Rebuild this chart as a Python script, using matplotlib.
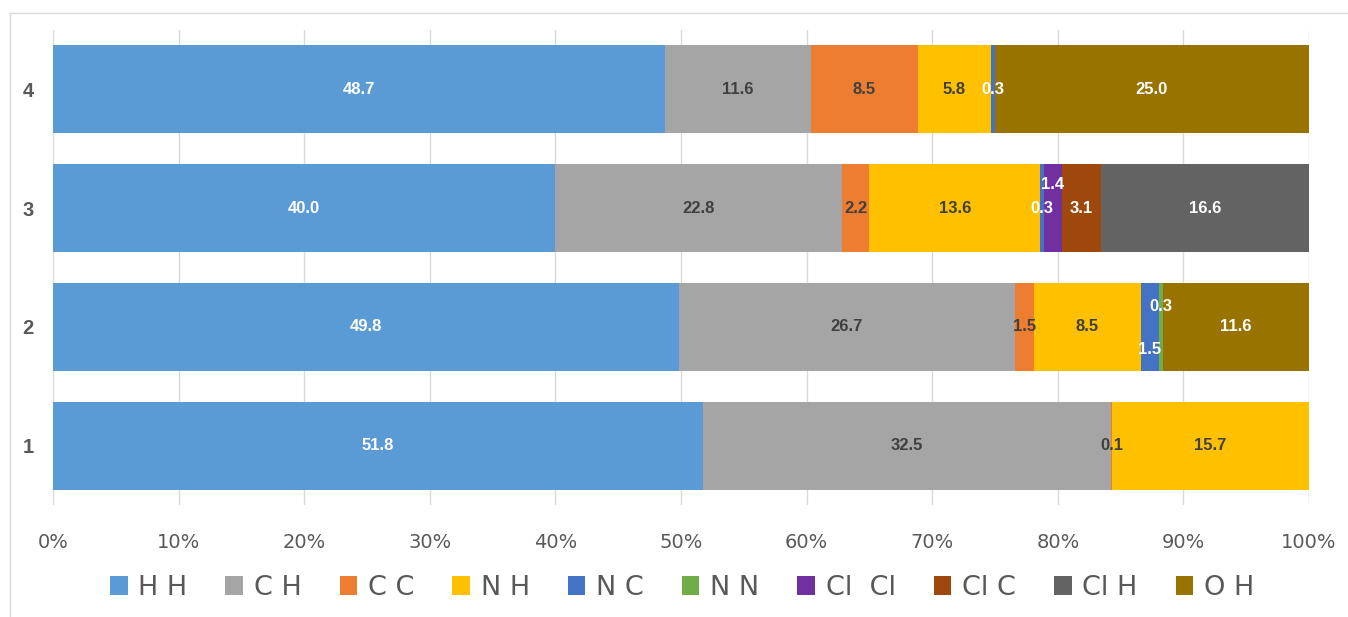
import numpy as np
import matplotlib
matplotlib.use("Agg")
import matplotlib.pyplot as plt
from matplotlib.lines import Line2D

# rows from bottom (1) to top (4), values in percent
rows = ["1", "2", "3", "4"]
series = ["H H", "C H", "C C", "N H", "N C", "N N", "Cl  Cl", "Cl C", "Cl H", "O H"]
hh = [51.8, 49.8, 40.0, 48.7]
ch = [32.5, 26.7, 22.8, 11.6]
cc = [0.1, 1.5, 2.2, 8.5]
nh = [15.7, 8.5, 13.6, 5.8]
nc = [0.0, 1.5, 0.3, 0.3]
nn = [0.0, 0.3, 0.0, 0.0]
clcl = [0.0, 0.0, 1.4, 0.0]
clc = [0.0, 0.0, 3.1, 0.0]
clh = [0.0, 0.0, 16.6, 0.0]
oh = [0.0, 11.6, 0.0, 25.0]

colors = ["#5B9BD5", "#A5A5A5", "#ED7D31", "#FFC000", "#4472C4",
          "#70AD47", "#7030A0", "#9E480E", "#636363", "#997300"]
label_colors = ["white", "#404040", "#404040", "#404040", "white",
                "white", "white", "white", "white", "white"]
# vertical nudges (points) for crowded labels: (series index, row index) -> dy
nudges = {(6, 2): 17, (4, 1): -16, (5, 1): 15}

data = np.array([hh, ch, cc, nh, nc, nn, clcl, clc, clh, oh])
totals = data.sum(axis=0)
frac = data / totals

fig = plt.figure(figsize=(13.48, 6.17), dpi=100)
ax = fig.add_axes([53 / 1348, 1 - 505 / 617, 1256 / 1348, 475 / 617])

y = np.arange(len(rows))
left = np.zeros(len(rows))
for i, name in enumerate(series):
    ax.barh(y, frac[i], left=left, height=0.74, color=colors[i], label=name,
            zorder=2, linewidth=0)
    for j in range(len(rows)):
        if data[i, j] <= 0:
            continue
        cx = left[j] + frac[i, j] / 2
        dy = nudges.get((i, j), 0)
        ax.annotate(f"{data[i, j]:.1f}", (cx, y[j]), xytext=(0, dy),
                    textcoords="offset points", ha="center", va="center",
                    color=label_colors[i], fontsize=12, fontweight="bold",
                    family=["Liberation Sans", "DejaVu Sans"], zorder=3)
    left += frac[i]

ax.set_xlim(0, 1)
ax.set_ylim(-0.5, len(rows) - 0.5)
ax.set_xticks(np.arange(0, 1.01, 0.1))
ax.set_xticklabels([f"{int(round(v * 100))}%" for v in np.arange(0, 1.01, 0.1)])
ax.set_yticks(y)
ax.set_yticklabels(rows, fontweight="bold", fontsize=14.5,
                   family=["Liberation Sans", "DejaVu Sans"])
ax.tick_params(axis="x", length=0, pad=20, labelsize=14, colors="#595959")
ax.tick_params(axis="y", length=0, pad=14, colors="#595959")
ax.grid(axis="x", color="#D9D9D9", linewidth=1, zorder=0)
for s in ax.spines.values():
    s.set_visible(False)

fig.legend(loc="center", bbox_to_anchor=(0.506, 1 - 588 / 617), ncol=10,
           frameon=False, fontsize=19.5, handlelength=0.65, handleheight=0.65,
           handletextpad=0.4, columnspacing=1.4, labelcolor="#595959")

# chart border
fig.add_artist(Line2D([10 / 1348, 10 / 1348], [0, 1 - 13 / 617],
                      transform=fig.transFigure, color="#D9D9D9", lw=1))
fig.add_artist(Line2D([10 / 1348, 1], [1 - 13 / 617, 1 - 13 / 617],
                      transform=fig.transFigure, color="#D9D9D9", lw=1))

fig.savefig("out.png", dpi=100)
